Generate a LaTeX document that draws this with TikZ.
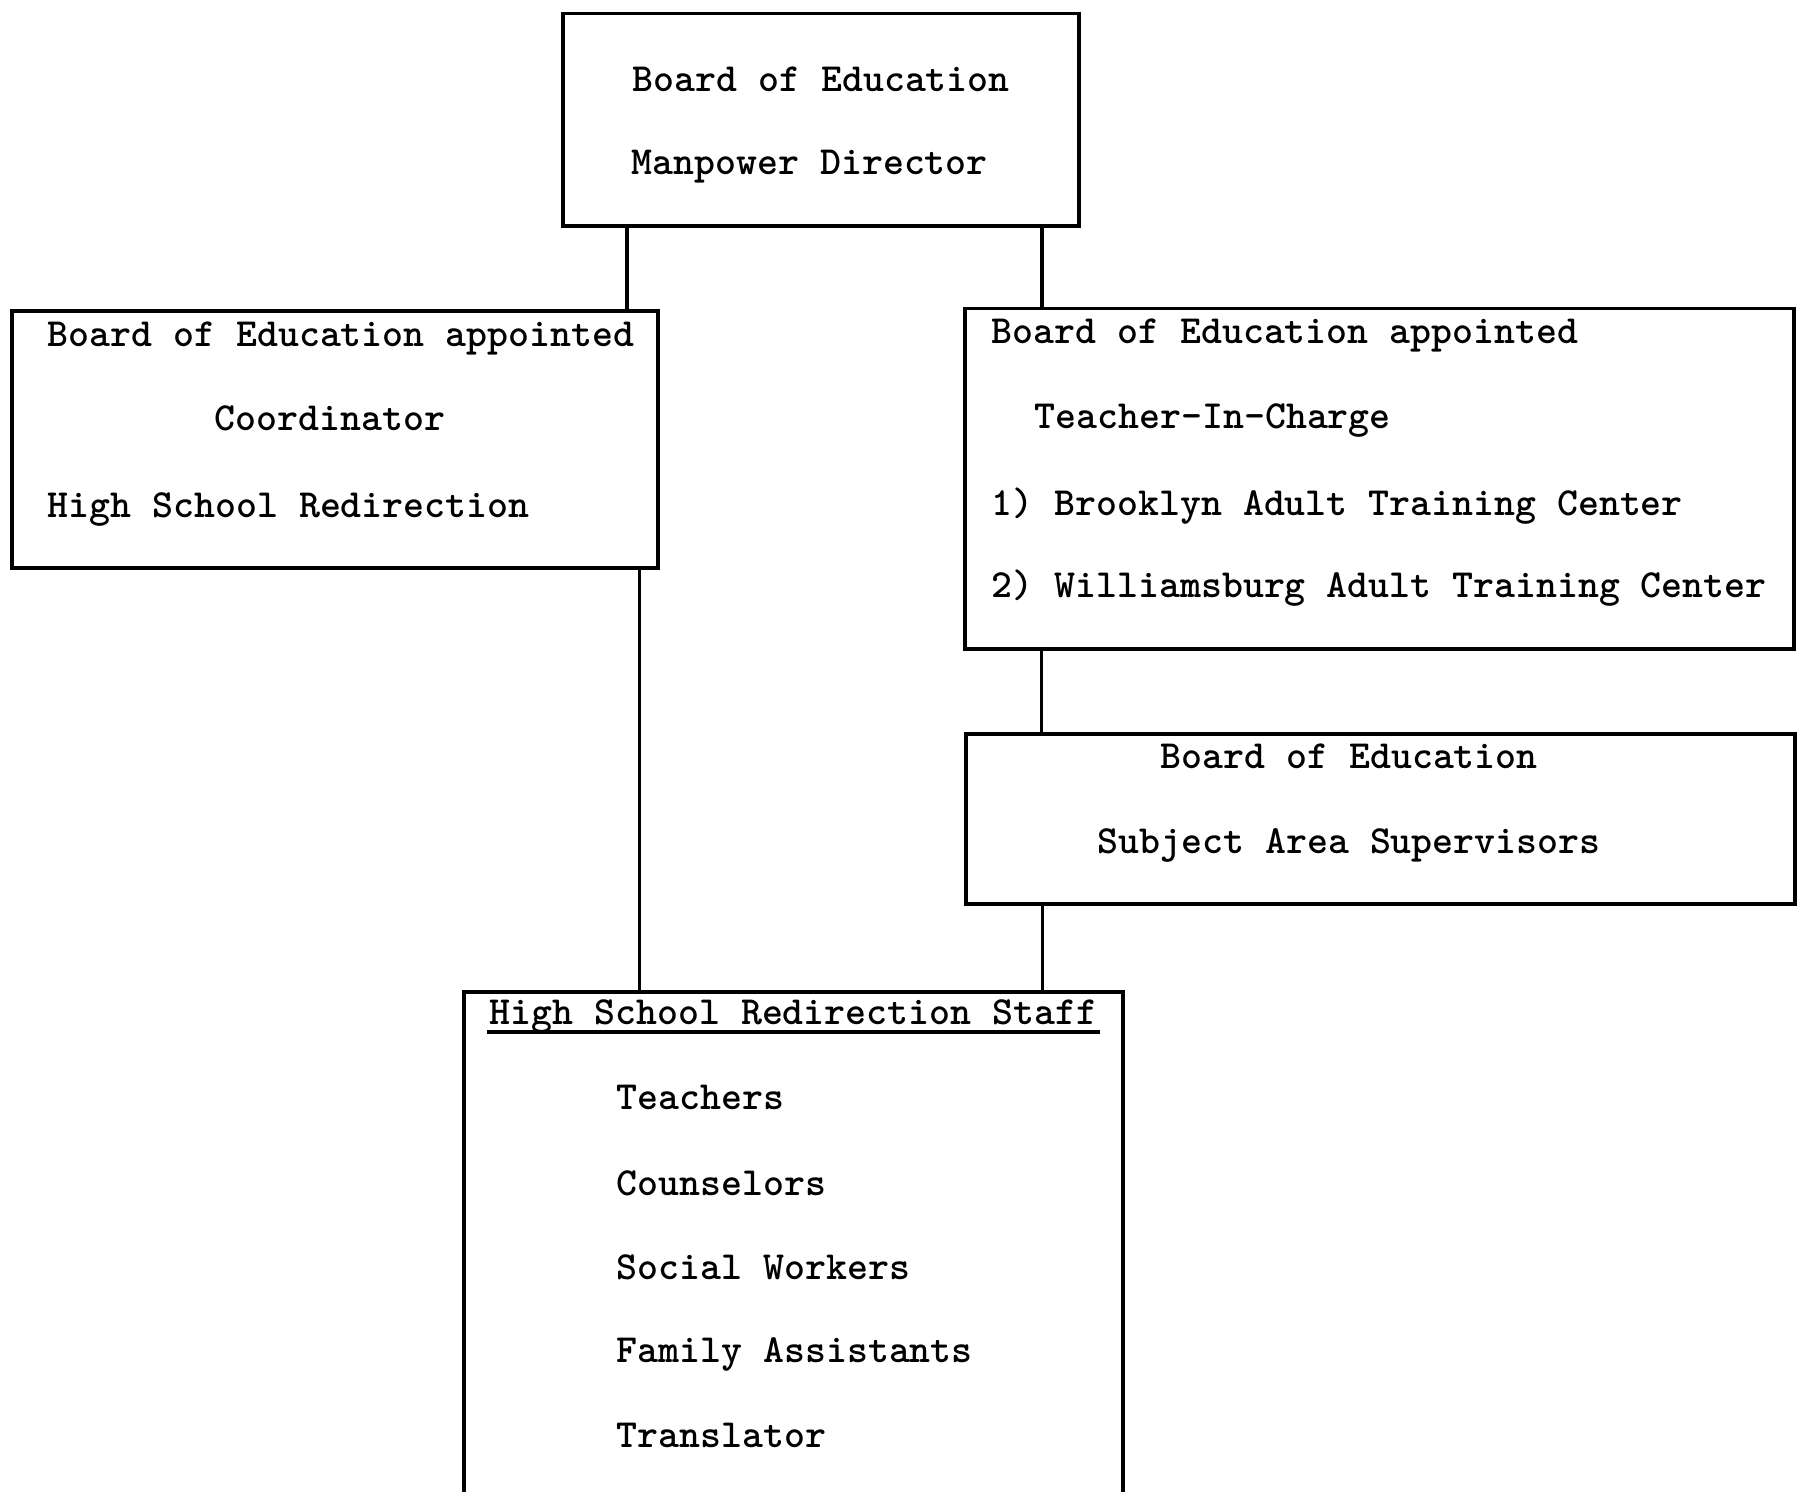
\documentclass[tikz,border=0pt]{standalone}
\usepackage{fontspec}
\usetikzlibrary{positioning}

\begin{document}
\begin{tikzpicture}[line width=1pt,every node/.append style={align=left},box/.style={rectangle,draw,line width=1pt,anchor=north west,inner sep=0pt},txt/.style={anchor=base west,inner sep=0pt,font=\fontsize{11.35pt}{13pt}\ttfamily\bfseries},link/.style={line width=1.1pt}]
    \clip (0,0) rectangle (18,-14.92);
    \useasboundingbox (0,0) rectangle (18,-14.92);
    \node [box, minimum width=5.16cm, minimum height=2.125cm] (top) at (5.61,-0.115) {};
    \node [box, minimum width=6.455cm, minimum height=2.57cm] (coord) at (0.105,-3.09) {};
    \node [box, minimum width=8.29cm, minimum height=3.405cm] (tic) at (9.63,-3.065) {};
    \node [box, minimum width=8.29cm, minimum height=1.70cm] (super) at (9.64,-7.32) {};
    \node [box, minimum width=6.59cm, minimum height=5.6cm] (staff) at (4.62,-9.90) {};
    % texts
    \node [txt] (topA) at (6.31,-0.91) {Board of Education};
    \node [txt] (topB) at (6.30,-1.74) {Manpower Director};
    \node [txt] (coordA) at (0.46,-3.46) {Board of Education appointed};
    \node [txt] (coordB) at (2.13,-4.305) {Coordinator};
    \node [txt] (coordC) at (0.46,-5.17) {High School Redirection};
    \node [txt] (ticA) at (9.90,-3.43) {Board of Education appointed};
    \node [txt] (ticB) at (10.33,-4.28) {Teacher-In-Charge};
    \node [txt] (ticC) at (9.90,-5.15) {1) Brooklyn Adult Training Center};
    \node [txt] (ticD) at (9.90,-5.975) {2) Williamsburg Adult Training Center};
    \node [txt] (superA) at (11.59,-7.68) {Board of Education};
    \node [txt] (superB) at (10.96,-8.535) {Subject Area Supervisors};
    \node [txt] (staffH) at (4.88,-10.245) {High School Redirection Staff};
    \draw ([xshift=-0.1mm,yshift=-0.75mm]staffH.base west) -- ([xshift=0.1mm,yshift=-0.75mm]staffH.base east);
    \node [txt] (teach) at (6.15,-11.09) {Teachers};
    \node [txt] (couns) at (6.15,-11.95) {Counselors};
    \node [txt] (social) at (6.15,-12.79) {Social Workers};
    \node [txt] (family) at (6.15,-13.62) {Family Assistants};
    \node [txt] (transl) at (6.15,-14.47) {Translator};
    % connectors
    \draw [link] ([xshift=6.6mm]top.south west) -- ([xshift=6.6mm]top.south west |- coord.north);
    \draw [link] ([xshift=-3.85mm]top.south east) -- ([xshift=-3.85mm]top.south east |- tic.north);
    \draw [link] ([xshift=-2mm]coord.south east) -- ([xshift=-2mm]coord.south east |- staff.north);
    \draw [link] ([xshift=7.85mm]tic.south west) -- ([xshift=7.85mm]tic.south west |- super.north);
    \draw [link] ([xshift=7.85mm]super.south west) -- ([xshift=7.85mm]super.south west |- staff.north);
\end{tikzpicture}
\end{document}
